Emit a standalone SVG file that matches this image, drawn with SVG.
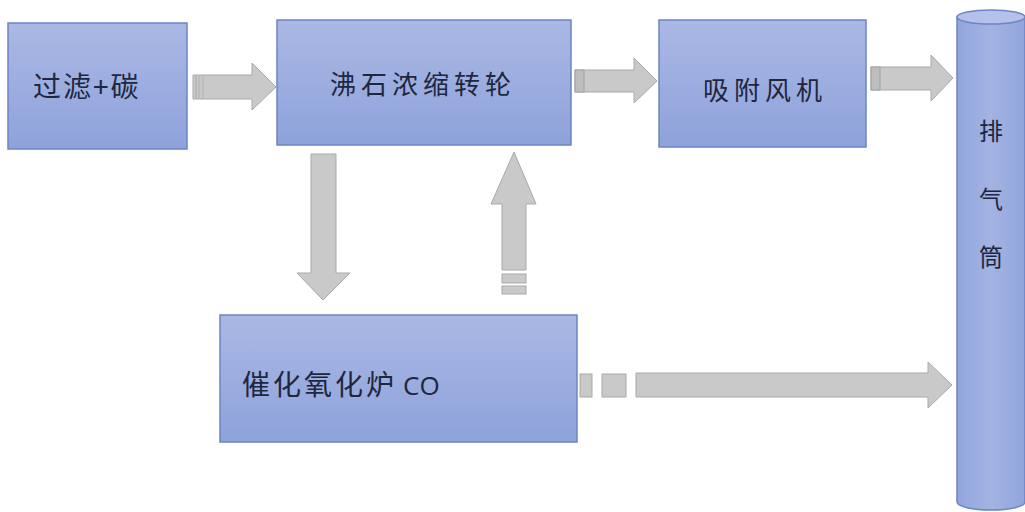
<svg xmlns="http://www.w3.org/2000/svg" width="1025" height="512" viewBox="0 0 1025 512">
<defs>
<linearGradient id="bg" x1="0" y1="0" x2="0" y2="1">
<stop offset="0" stop-color="#aab8e4"/>
<stop offset="1" stop-color="#8ea2db"/>
</linearGradient>
<linearGradient id="cyl" x1="0" y1="0" x2="1" y2="0">
<stop offset="0" stop-color="#92a5dc"/>
<stop offset="0.5" stop-color="#a3b3e2"/>
<stop offset="1" stop-color="#92a5dc"/>
</linearGradient>
<style>
.box{fill:url(#bg);stroke:#6e84c4;stroke-width:1.5}
.arr{fill:#c9c9c9;stroke:#a9a9a9;stroke-width:1}
.band{fill:#bdbdbd;stroke:#a0a0a0;stroke-width:1}
.t{font-family:"Noto Sans CJK SC","Noto Sans",sans-serif;font-size:26px;fill:#1e2640}
.sp{letter-spacing:5px}
.big{font-size:28px}
.v{font-size:24px;text-anchor:middle}
.lat{font-family:"Open Sans","Liberation Sans",sans-serif;font-size:26px;letter-spacing:0}
</style>
</defs>
<rect width="1025" height="512" fill="#ffffff"/>
<g id="node-filter">
<rect class="box" x="8" y="23" width="179" height="126"/>
<text class="t big" x="33" y="97" style="letter-spacing:2px">过滤+碳</text>
</g>
<g id="node-zeolite">
<rect class="box" x="277" y="20" width="294" height="125"/>
<text class="t sp" x="330" y="94">沸石浓缩转轮</text>
</g>
<g id="node-fan">
<rect class="box" x="659" y="20" width="207" height="127"/>
<text class="t sp" x="703" y="100">吸附风机</text>
</g>
<g id="node-co">
<rect class="box" x="220" y="315" width="357" height="127"/>
<text class="t big" x="242" y="395" style="letter-spacing:3px">催化氧化炉 <tspan class="lat" x="403">CO</tspan></text>
</g>
<g id="node-stack">
<path d="M957,17 L957,502 A34,8 0 0 0 1025,502 L1025,17 Z" fill="url(#cyl)" stroke="#6e84c4" stroke-width="1.5"/>
<ellipse cx="991" cy="17" rx="34" ry="7" fill="#b4c1ea" stroke="#6e84c4" stroke-width="1.5"/>
<text class="t v" x="991" y="140">排</text>
<text class="t v" x="991" y="208">气</text>
<text class="t v" x="991" y="266">筒</text>
</g>
<g id="connectors">
<path class="arr" d="M193,75 L252,75 L252,63 L276,87 L252,110 L252,99 L193,99 Z"/>
<line x1="196" y1="76" x2="196" y2="98" stroke="#a8a8a8"/>
<line x1="199" y1="76" x2="199" y2="98" stroke="#b0b0b0"/>
<line x1="203" y1="76" x2="203" y2="98" stroke="#b0b0b0"/>
<path class="arr" d="M575,70 L634,70 L634,58 L657,81 L634,103 L634,92 L575,92 Z"/>
<rect class="band" x="575" y="70" width="9" height="22"/>
<path class="arr" d="M871,67 L931,67 L931,55 L953,78 L931,101 L931,90 L871,90 Z"/>
<rect class="band" x="871" y="67" width="9" height="23"/>
<path class="arr" d="M311,154 L336,154 L336,273 L350,273 L323,300 L297,273 L311,273 Z"/>
<path class="arr" d="M502,270 L502,204 L491,204 L514,152 L536,204 L526,204 L526,270 Z"/>
<rect class="arr" x="502" y="274" width="24" height="9"/>
<rect class="arr" x="502" y="286" width="24" height="8"/>
<rect class="arr" x="580" y="374" width="12" height="23"/>
<rect class="arr" x="602" y="374" width="24" height="23"/>
<path class="arr" d="M636,373 L928,373 L928,362 L952,385 L928,408 L928,397 L636,397 Z"/>
</g>
</svg>
